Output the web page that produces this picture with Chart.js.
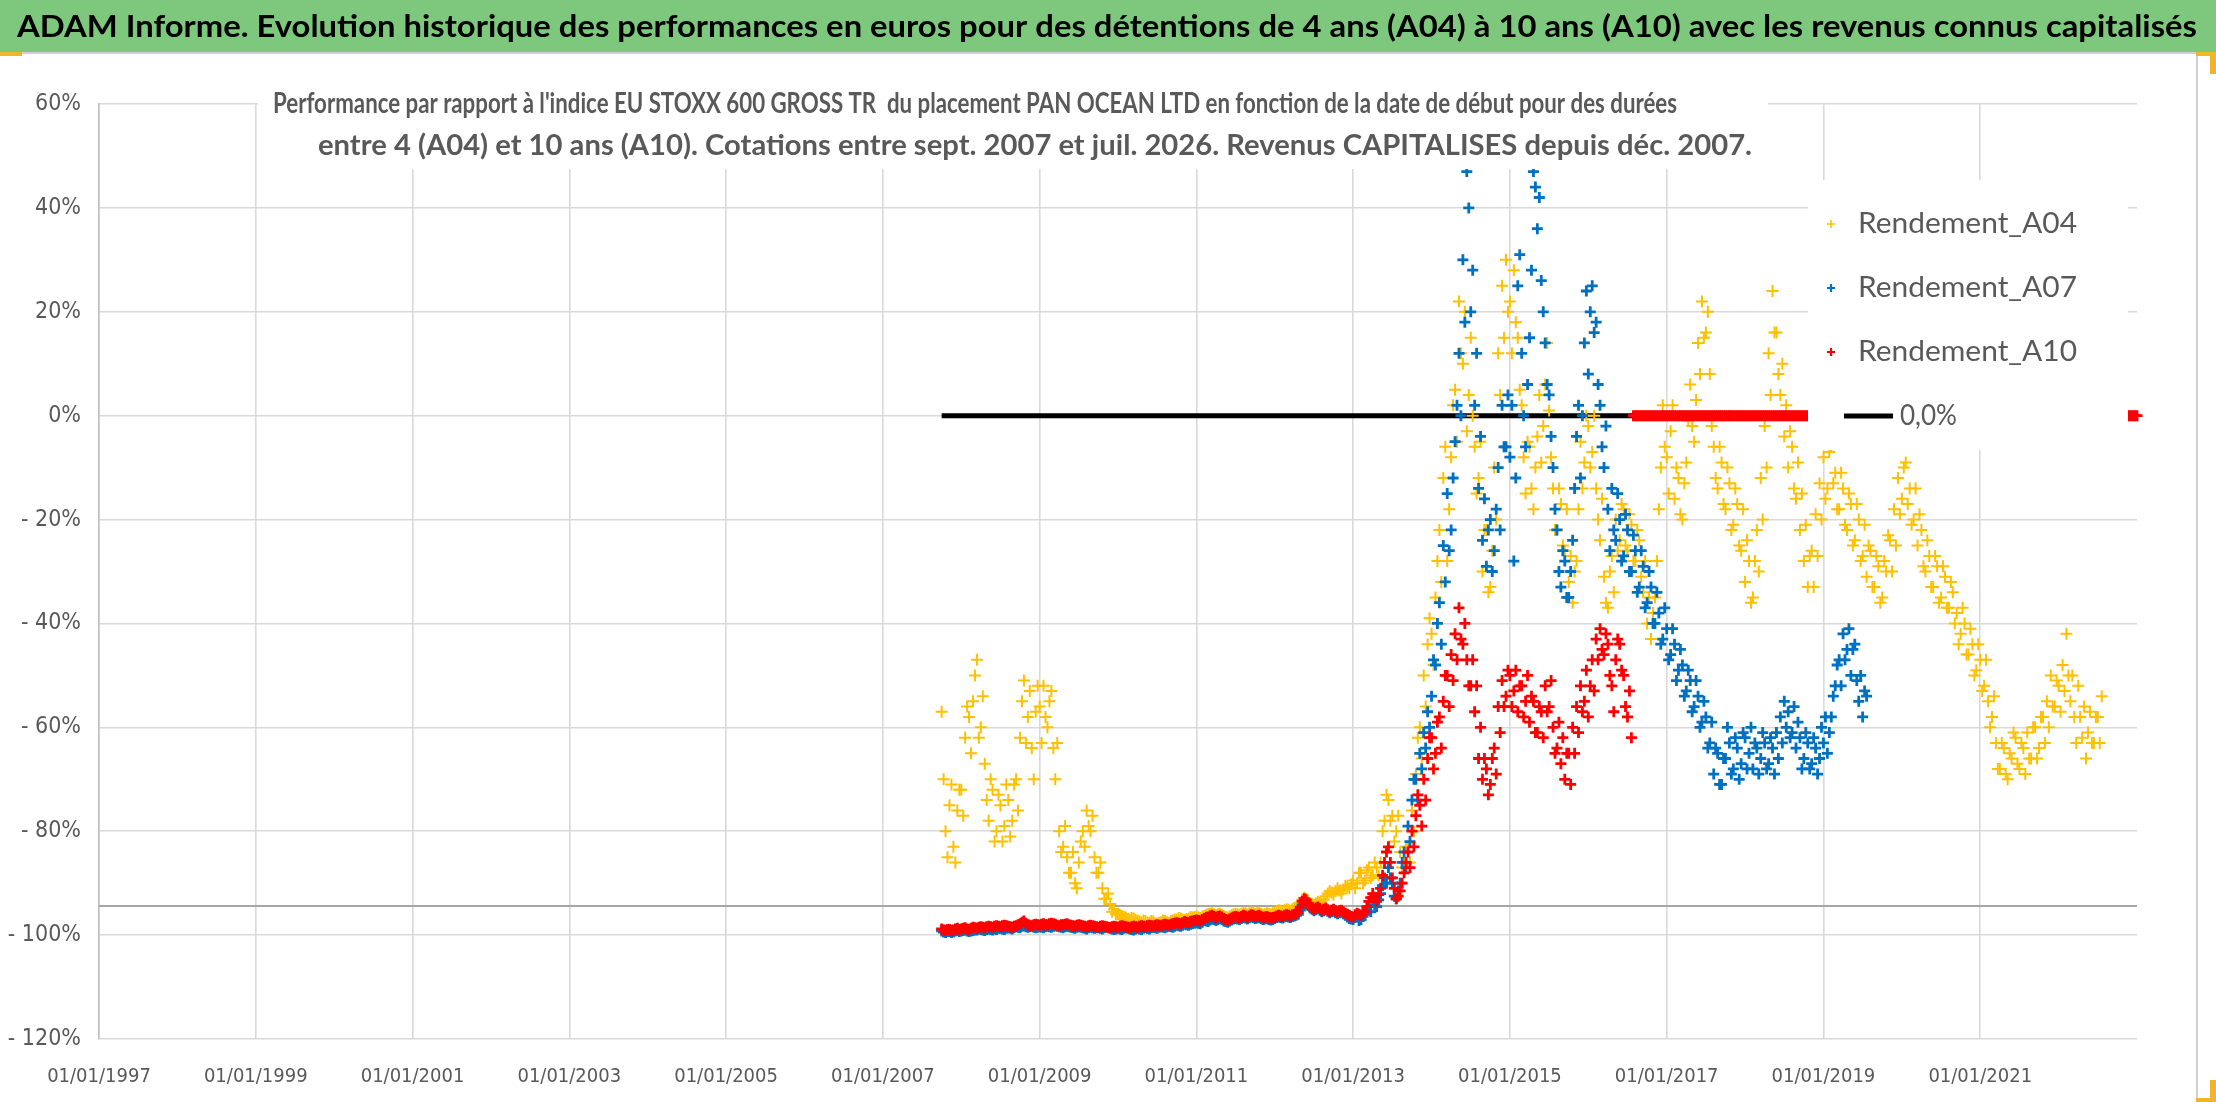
<!DOCTYPE html>
<html><head><meta charset="utf-8">
<script src="https://cdn.jsdelivr.net/npm/chart.js@4.4.1/dist/chart.umd.min.js"></script>
<style>html,body{margin:0;padding:0;background:#fff;overflow:hidden}canvas{display:block}</style>
</head><body>
<canvas id="c" width="2216" height="1102"></canvas>
<script>
// ---------------- DATA ----------------
const HEADER = "ADAM Informe. Evolution historique des performances en euros pour des détentions de 4 ans (A04) à 10 ans (A10) avec les revenus connus capitalisés";
const SUBTITLE_1 = "Performance par rapport à l'indice EU STOXX 600 GROSS TR  du placement PAN OCEAN LTD en fonction de la date de début pour des durées";
const SUBTITLE_2 = "entre 4 (A04) et 10 ans (A10). Cotations entre sept. 2007 et juil. 2026. Revenus CAPITALISES depuis déc. 2007.";
const SERIES_NAMES = ["Rendement_A04", "Rendement_A07", "Rendement_A10", "0,0%"];
const X_TICK_YEARS = [1997, 1999, 2001, 2003, 2005, 2007, 2009, 2011, 2013, 2015, 2017, 2019, 2021];
const Y_TICKS = [60, 40, 20, 0, -20, -40, -60, -80, -100, -120];
const X_AXIS_CROSSES_AT = -94.4;
const SAMPLE_STEP = 0.025; // years between two readings

// Rendement_A04 (%), one reading every SAMPLE_STEP year from A04_START
const A04_START = 2007.75;
const A04 = [
 -57,-70,-80,-85,-75,-71,-83,-86,-76,-72,
 -72,-77,-62,-56,-58,-65,-55,-50,-47,-62,-60,-54,-67,-74,-78,-70,-72,-82,-80,-73,-75,-82,-79,-71,-74,-81,-78,-71,-70,-76,-62,-55,-51,-63,-58,-53,-64,-70,-57,-52,
 -56,-63,-52,-58,-60,-55,-53,-64,-70,-63,-80,-84,-83,-79,-85,-88,-88,-84,-90,-91,-86,-82,-80,-83,-76,-79,-80,-77,-85,-88,-88,-86,-91,-93,-93,-92,-94,-95.5,-95,-96,
 -96,-96.2,-96.3,-96.5,-96.6,-96.9,-97,-96.7,-96.8,-97.1,-97.2,-97.4,-97.5,-97.2,-97.3,-97.6,-97.6,-97.3,-97.4,-97.7,-97.8,-97.6,-97.5,-97.2,-97.3,-97.5,-97.6,-97.3,-97.2,-97,-97,-96.7,-96.8,-97,-97.1,-96.9,-96.8,-96.5,-96.6,-96.5,
 -96.4,-96.6,-96.7,-96.4,-96.3,-96.1,-96,-95.9,-95.8,-96,-96.2,-96,-95.9,-96.1,-96.3,-96.5,-96.6,-96.4,-96.2,-96,-95.9,-96,-96.1,-95.9,-95.7,-95.8,-96,-95.8,-95.6,-95.7,-95.9,-95.8,-95.7,-95.9,-96.1,-96,-95.8,-95.9,-96,-95.8,
 -95.6,-95.4,-95.2,-95.3,-95.5,-95.2,-95,-95.1,-95.3,-95,-94.8,-94.6,-94.5,-94,-93.2,-92.8,-93,-93.4,-93.8,-94,-94.2,-93.9,-93.6,-93.8,-94,-93.2,-92.5,-92,-91.5,-91.8,-92.2,-91.5,-91,-91.4,-92,-91.2,-90.5,-90.8,-91,-90.2,
 -89.5,-91,-90,-88,-88,-90,-89.5,-87.5,-87,-89,-88.5,-86,-87,-88.5,-86,-80,-78,-73,-74,-78,-77,-82,-80,-77,-84,-87,-86,-83,-83,-86,-76,-80,-69,-62,-60,-66,-50,-56,-44,-39,
 -42,-48,-35,-28,-22,-32,-12,-6,-28,-18,-8,2,5,-5,22,12,10,20,-3,4,15,0,-6,-15,-12,-5,-30,-22,-22,-34,-33,-26,-10,-20,12,4,25,15,30,20,
 22,12,28,18,15,5,2,-8,-15,-5,-6,-14,-18,-10,-4,4,-9,-2,6,14,1,-8,-14,-22,-22,-14,-17,-25,-26,-18,-32,-27,-36,-30,-28,-18,-5,-14,-9,0,
 -2,-10,-7,0,-14,-20,-24,-16,-31,-36,-37,-30,-27,-34,-20,-26,-24,-17,-18,-25,-26,-19,-21,-28,-28,-22,-24,-31,-34,-28,-40,-35,-43,-38,-35,-28,-18,-10,2,-6,
 -8,-15,-3,2,-16,-10,-12,-19,-20,-13,-9,-1,6,-2,-5,3,14,8,22,15,16,20,8,-2,-6,-12,-14,-6,-9,-17,-18,-10,-13,-22,-21,-14,-17,-25,-26,-18,
 -32,-24,-28,-36,-35,-28,-22,-30,-12,-20,-2,-10,12,4,24,16,16,8,4,10,-4,2,-10,-3,-6,-14,-16,-9,-22,-15,-28,-21,-33,-27,-26,-33,-19,-27,-13,-20,
 -8,-16,-14,-7,-6,-13,-11,-18,-18,-11,-14,-21,-22,-15,-17,-25,-24,-17,-20,-28,-27,-21,-31,-25,-26,-33,-33,-27,-29,-36,-35,-28,-30,-23,-24,-30,-18,-25,-12,-19,
 -16,-10,-9,-17,-14,-21,-20,-14,-25,-19,-22,-29,-30,-24,-27,-33,-33,-27,-29,-36,-35,-29,-31,-37,-37,-32,-34,-40,-38,-44,-42,-37,-40,-46,-46,-41,-44,-50,-49,-44,
 -47,-53,-52,-47,-55,-60,-58,-54,-63,-68,-68,-63,-64,-69,-70,-65,-66,-61,-62,-67,-68,-63,-64,-69,-61,-66,-66,-60,-60,-66,-64,-58,-58,-63,-55,-60,-50,-56,-56,-51,
 -52,-57,-48,-53,-42,-50,-55,-50,-58,-63,-52,-58,-62,-56,-66,-61,-57,-63,-63,-58,-58,-63,-54
];

// Rendement_A07 (%)
const A07_START = 2007.75;
const A07 = [
 -99.2,-99.4,-99.5,-99.3,-99.3,-99.5,-99.4,-99.2,-99.1,-99.3,
 -99.2,-99.1,-99,-99.2,-99.3,-99.2,-99.1,-99,-99,-98.8,-98.9,-99,-99.1,-98.9,-98.8,-98.9,-99,-98.8,-98.9,-98.7,-98.7,-98.8,-98.9,-98.7,-98.6,-98.7,-98.8,-98.6,-98.4,-98.5,-98.6,-98.3,-98.2,-98.4,-98.5,-98.4,-98.3,-98.5,-98.6,-98.5,
 -98.4,-98.5,-98.6,-98.4,-98.3,-98.4,-98.5,-98.3,-98.2,-98.3,-98.4,-98.5,-98.6,-98.4,-98.3,-98.4,-98.5,-98.6,-98.7,-98.5,-98.4,-98.5,-98.6,-98.7,-98.8,-98.6,-98.5,-98.6,-98.7,-98.6,-98.6,-98.7,-98.8,-98.6,-98.5,-98.6,-98.7,-98.8,-98.9,-98.8,
 -98.7,-98.8,-98.9,-98.7,-98.6,-98.7,-98.8,-98.9,-99,-98.8,-98.7,-98.8,-98.9,-98.7,-98.6,-98.7,-98.8,-98.6,-98.5,-98.6,-98.7,-98.5,-98.4,-98.5,-98.6,-98.4,-98.3,-98.4,-98.5,-98.3,-98.1,-98.2,-98.3,-98.1,-97.9,-98,-98.1,-97.9,-97.8,-97.7,
 -97.6,-97.7,-97.8,-97.5,-97.2,-97.3,-97.4,-97.1,-96.9,-97,-97.2,-97,-96.8,-97,-97.3,-97.4,-97.5,-97.3,-97.1,-96.9,-96.8,-96.9,-97,-96.8,-96.6,-96.7,-96.9,-96.7,-96.5,-96.6,-96.8,-96.7,-96.6,-96.8,-97,-96.9,-96.8,-97,-97.1,-97,
 -96.8,-96.6,-96.5,-96.6,-96.7,-96.5,-96.4,-96.5,-96.6,-96.4,-96.3,-96.2,-96,-95.2,-94.2,-94,-93.8,-94.3,-94.8,-95,-95.3,-95.1,-94.9,-95.2,-95.5,-95.3,-95.1,-95.4,-95.7,-95.5,-95.4,-95.7,-95.9,-95.7,-95.6,-95.9,-96.2,-96.5,-96.8,-96.9,
 -97,-96.6,-96.5,-97.2,-97,-96.4,-96,-95.3,-94.5,-95.5,-93.5,-94.2,-94.5,-93.2,-92,-90.5,-89,-90,-87,-89,-90,-92.5,-93,-91.5,-90,-86,-84,-87,-79,-82,-74,-70,-70,-74,-65,-68,-61,-64,-57,-60,
 -54,-47,-48,-40,-36,-44,-25,-32,-15,-26,-22,-12,-5,2,12,0,30,18,47,40,20,28,2,12,-14,-4,-24,-16,-29,-22,-20,-30,-26,-18,-10,-22,2,-6,-6,4,
 -8,2,-28,-12,25,31,12,0,-6,6,15,28,47,44,36,42,26,20,14,6,4,-4,-10,-18,-22,-30,-33,-26,-28,-35,-35,-30,-24,-14,-4,2,-12,0,14,24,
 8,20,25,16,18,6,2,-6,-10,-2,-18,-26,-14,-22,-24,-15,-20,-28,-27,-19,-22,-30,-30,-23,-26,-34,-33,-26,-29,-37,-36,-30,-33,-40,-40,-34,-38,-44,-43,-37,
 -41,-47,-46,-41,-44,-51,-49,-45,-48,-54,-53,-49,-51,-57,-56,-51,-54,-60,-59,-55,-58,-64,-63,-59,-69,-64,-65,-71,-71,-66,-66,-60,-63,-69,-68,-62,-64,-70,-67,-61,
 -62,-68,-65,-60,-68,-63,-64,-69,-66,-61,-63,-68,-67,-62,-64,-69,-61,-66,-58,-63,-55,-60,-57,-62,-61,-56,-64,-59,-62,-68,-66,-61,-63,-68,-67,-62,-64,-69,-66,-60,
 -63,-58,-65,-61,-58,-54,-52,-48,-47,-52,-42,-47,-45,-41,-50,-45,-44,-51,-55,-50,-58,-53,-54
];

// Rendement_A10 (%): readings, then 0 where the 10-year return is not yet known
const A10_START = 2007.75;
const A10 = [
 -98.8,-99,-99.1,-98.9,-98.9,-99.1,-99,-98.8,-98.7,-98.9,
 -98.8,-98.7,-98.6,-98.8,-98.9,-98.7,-98.5,-98.6,-98.7,-98.5,-98.4,-98.5,-98.6,-98.4,-98.3,-98.4,-98.5,-98.3,-98.2,-98.3,-98.4,-98.2,-98.1,-98.2,-98.3,-98.4,-98.5,-98.3,-98.2,-98,-97.8,-97.5,-97.3,-97.7,-98,-98.1,-98.2,-98,-97.9,-98,
 -98.1,-97.9,-97.8,-98,-98,-97.8,-97.7,-97.8,-97.9,-98.1,-98.2,-98,-98,-97.9,-97.8,-98,-98.1,-98.2,-98.3,-98.1,-98,-98.1,-98.2,-98.3,-98.4,-98.2,-98.1,-98.2,-98.3,-98.4,-98.5,-98.3,-98.2,-98.3,-98.4,-98.5,-98.6,-98.4,-98.3,-98.4,
 -98.5,-98.3,-98.2,-98.3,-98.4,-98.5,-98.6,-98.4,-98.3,-98.4,-98.5,-98.3,-98.2,-98.3,-98.4,-98.2,-98.1,-98.2,-98.3,-98.1,-98,-98.1,-98.2,-98,-97.9,-98,-98.1,-97.9,-97.8,-97.7,-97.6,-97.7,-97.8,-97.6,-97.4,-97.5,-97.6,-97.4,-97.3,-97.2,
 -97.1,-97.2,-97.3,-97,-96.8,-96.6,-96.5,-96.3,-96.2,-96.4,-96.6,-96.4,-96.3,-96.5,-96.8,-97,-97.1,-96.9,-96.7,-96.5,-96.4,-96.5,-96.6,-96.4,-96.2,-96.3,-96.5,-96.3,-96.1,-96.2,-96.4,-96.3,-96.2,-96.4,-96.6,-96.5,-96.4,-96.6,-96.7,-96.6,
 -96.5,-96.3,-96.2,-96.3,-96.4,-96.2,-96.1,-96.2,-96.3,-96.1,-96,-95.8,-95.6,-94.6,-93.5,-93,-93.2,-93.9,-94.5,-94.8,-95,-94.8,-94.6,-94.9,-95.2,-95,-94.8,-95.1,-95.4,-95.2,-95,-95.3,-95.5,-95.3,-95.2,-95.5,-95.8,-96,-96.2,-96.4,
 -96.5,-96.1,-95.8,-96,-96.2,-95.8,-95.5,-94.5,-93.5,-92.8,-92,-92.7,-93.5,-92.2,-91,-88.5,-86,-84,-83,-86,-89,-91,-93,-92.5,-91.5,-90,-88,-86,-84,-87,-80,-83,-77,-73,-75,-79,-70,-74,-66,-62,
 -62,-68,-65,-59,-58,-64,-55,-50,-50,-56,-46,-51,-42,-47,-37,-43,-44,-40,-47,-52,-52,-47,-57,-52,-66,-60,-70,-66,-68,-73,-71,-66,-64,-69,-56,-61,-51,-56,-54,-49,
 -50,-56,-53,-49,-57,-52,-52,-58,-55,-50,-59,-54,-55,-61,-61,-56,-57,-62,-52,-57,-56,-51,-60,-65,-64,-59,-67,-62,-70,-65,-65,-71,-60,-65,-56,-61,-52,-57,-55,-49,
 -58,-52,-47,-53,-43,-47,-41,-45,-46,-42,-44,-50,-52,-57,-47,-43,-44,-49,-50,-56,-58,-53,-62,
 0,0,0,0,0,0,0,0,0,0,0,0,0,0,0,0,0,0,0,0,0,0,0,0,0,0,0,0,0,0,0,0,0,0,0,0,0,0,0,0,
 0,0,0,0,0,0,0,0,0,0,0,0,0,0,0,0,0,0,0,0,0,0,0,0,0,0,0,0,0,0,0,0,0,0,0,0,0,0,0,0,
 0,0,0,0,0,0,0,0,0,0,0,0,0,0,0,0,0,0,0,0,0,0,0,0,0,0,0,0,0,0,0,0,0,0,0,0,0,0,0,0,
 0,0,0,0,0,0,0,0,0,0,0,0,0,0,0,0,0,0,0,0,0,0,0,0,0,0,0,0,0,0,0,0,0,0,0,0,0,0,0,0,
 0,0,0,0,0,0,0,0,0,0,0,0,0,0,0,0,0,0,0,0,0,0,0,0,0,0,0,0,0,0,0,0,0,0,0,0,0,0,0,0,
 0,0,0,0,0,0,0,0,0,0,0,0,0,0,0,0,0,0,0,0,0,0,0,0,0,0,0,0,0,0,0,0,0,0,0,0,0,0,0,0,
 0,0,0,0,0,0,0,0,0,0,0,0,0,0,0,0,0,0
];

// "0,0%" reference line
const REF_X = [2007.75, 2023.0];
const REF_Y = [0, 0];

// ---------------- STYLE ----------------
const COLORS = { a04: '#FFC000', a07: '#0070C0', a10: '#FF0000', ref: '#000000' };
const FONT_NARROW = "'Liberation Sans Narrow', 'DejaVu Sans Condensed', Lato, sans-serif";
const FONT_TEXT = "Lato, 'Open Sans', sans-serif";
const GREY_TEXT = '#595959';

function toPoints(start, vals) {
  return vals.map((v, i) => ({ x: +(start + i * SAMPLE_STEP).toFixed(4), y: v }));
}

function fitText(c, text, x, y, w, size, weight, family, color) {
  c.save();
  c.font = weight + ' ' + size + 'px ' + family;
  c.fillStyle = color;
  c.textBaseline = 'middle';
  c.textAlign = 'left';
  const m = c.measureText(text).width;
  c.translate(x, y);
  c.scale(w / m, 1);
  c.fillText(text, 0, 0);
  c.restore();
}

function drawCross(c, x, y, r, color, lw) {
  c.save();
  c.strokeStyle = color; c.lineWidth = lw;
  c.beginPath();
  c.moveTo(x - r, y); c.lineTo(x + r, y);
  c.moveTo(x, y - r); c.lineTo(x, y + r);
  c.stroke();
  c.restore();
}

const decor = {
  id: 'decor',
  beforeDraw(chart) {
    const c = chart.ctx, W = chart.width, H = chart.height;
    c.save();
    c.fillStyle = '#ffffff'; c.fillRect(0, 0, W, H);
    c.fillStyle = '#7DC87D'; c.fillRect(0, 0, W, 52);
    fitText(c, HEADER, 17, 27, 2180, 31, 'bold', FONT_TEXT, '#000000');
    c.fillStyle = '#D0D0D0';
    c.fillRect(0, 52, 2198, 2);
    c.fillRect(2196, 52, 2, H - 52);
    c.fillStyle = '#F2B52A';
    c.fillRect(0, 52, 22, 4);
    c.fillRect(2196, 52, 20, 4); c.fillRect(2210, 52, 6, 22);
    c.fillRect(2196, 1098, 20, 4); c.fillRect(2210, 1080, 6, 22);
    c.restore();
  },
  beforeDatasetsDraw(chart) {
    const c = chart.ctx, a = chart.chartArea;
    const y = chart.scales.y.getPixelForValue(X_AXIS_CROSSES_AT);
    c.save();
    c.strokeStyle = '#A6A6A6'; c.lineWidth = 2;
    c.beginPath(); c.moveTo(a.left, y); c.lineTo(a.right, y); c.stroke();
    c.restore();
  },
  afterDatasetsDraw(chart) {
    const c = chart.ctx;
    c.save();
    // chart title box
    c.fillStyle = '#ffffff';
    c.fillRect(258, 78, 1510, 91);
    fitText(c, SUBTITLE_1, 273, 104, 1404, 28, 'bold', FONT_TEXT, GREY_TEXT);
    fitText(c, SUBTITLE_2, 318, 146, 1434, 28, 'bold', FONT_TEXT, GREY_TEXT);
    // legend box
    c.fillStyle = '#ffffff';
    c.fillRect(1808, 180, 320, 270);
    const mx = 1831, tx = 1858;
    const rows = [224, 288, 352, 416];
    drawCross(c, mx, rows[0], 4, COLORS.a04, 1.6);
    drawCross(c, mx, rows[1], 4, COLORS.a07, 2.2);
    drawCross(c, mx, rows[2], 4, COLORS.a10, 2.2);
    fitText(c, SERIES_NAMES[0], tx, rows[0], 219, 28, 'normal', FONT_TEXT, GREY_TEXT);
    fitText(c, SERIES_NAMES[1], tx, rows[1], 219, 28, 'normal', FONT_TEXT, GREY_TEXT);
    fitText(c, SERIES_NAMES[2], tx, rows[2], 219, 28, 'normal', FONT_TEXT, GREY_TEXT);
    c.fillStyle = COLORS.ref;
    c.fillRect(1844, rows[3] - 2.5, 49, 5);
    fitText(c, SERIES_NAMES[3], 1900, rows[3], 57, 28, 'normal', FONT_TEXT, GREY_TEXT);
    c.restore();
  }
};

const ctx = document.getElementById('c').getContext('2d');
new Chart(ctx, {
  type: 'scatter',
  data: {
    datasets: [
      { label: SERIES_NAMES[2], data: toPoints(A10_START, A10), order: 0, clip: false,
        pointStyle: 'cross', pointRadius: 5.5, pointBorderWidth: 2.8,
        pointBorderColor: COLORS.a10, pointBackgroundColor: COLORS.a10, borderColor: COLORS.a10, backgroundColor: COLORS.a10 },
      { label: SERIES_NAMES[1], data: toPoints(A07_START, A07), order: 1, clip: false,
        pointStyle: 'cross', pointRadius: 5.5, pointBorderWidth: 2.8,
        pointBorderColor: COLORS.a07, pointBackgroundColor: COLORS.a07, borderColor: COLORS.a07, backgroundColor: COLORS.a07 },
      { label: SERIES_NAMES[0], data: toPoints(A04_START, A04), order: 2, clip: false,
        pointStyle: 'cross', pointRadius: 6, pointBorderWidth: 2,
        pointBorderColor: COLORS.a04, pointBackgroundColor: COLORS.a04, borderColor: COLORS.a04, backgroundColor: COLORS.a04 },
      { type: 'line', label: SERIES_NAMES[3], data: REF_X.map((x, i) => ({ x: x, y: REF_Y[i] })), order: 3,
        showLine: true, borderColor: COLORS.ref, borderWidth: 5, pointRadius: 0, fill: false, tension: 0 }
    ]
  },
  options: {
    responsive: false,
    animation: false,
    events: [],
    layout: { autoPadding: false, padding: { left: 0, right: 79, top: 104, bottom: 0 } },
    plugins: { legend: { display: false }, title: { display: false }, tooltip: { enabled: false } },
    scales: {
      x: {
        type: 'linear', min: 1997, max: 2023,
        afterBuildTicks: s => { s.ticks = X_TICK_YEARS.map(v => ({ value: v })); },
        afterFit: s => { s.height = 63; },
        grid: { color: '#D9D9D9', lineWidth: 1.6, drawTicks: false },
        border: { display: false },
        ticks: { autoSkip: false, maxRotation: 0, minRotation: 0, padding: 26, color: GREY_TEXT,
          font: { family: FONT_NARROW, size: 20 }, callback: v => '01/01/' + v }
      },
      y: {
        min: -120, max: 60,
        afterBuildTicks: s => { s.ticks = Y_TICKS.map(v => ({ value: v })); },
        afterFit: s => { s.width = 99; },
        grid: { color: '#D9D9D9', lineWidth: 1.6, drawTicks: false },
        border: { display: true, color: '#BFBFBF', width: 1.6 },
        ticks: { padding: 18, color: GREY_TEXT, font: { family: FONT_NARROW, size: 23 },
          callback: v => (v < 0 ? '- ' + (-v) + '%' : v + '%') }
      }
    }
  },
  plugins: [decor]
});
</script>
</body></html>
